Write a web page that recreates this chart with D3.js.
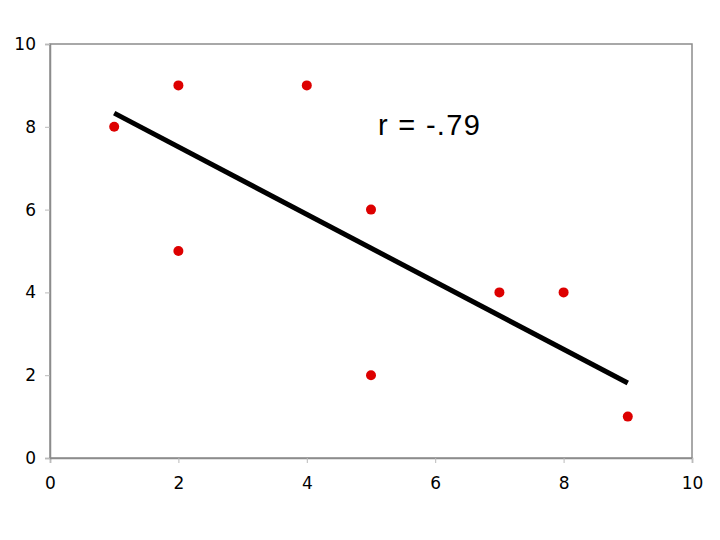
<!DOCTYPE html>
<html>
<head>
  <meta charset="utf-8">
  <script src="https://cdnjs.cloudflare.com/ajax/libs/d3/7.8.5/d3.min.js"></script>
  <style>
    body { margin: 0; background: #fff; }
    .tick text { font-family: "DejaVu Sans", Verdana, sans-serif; font-size: 17px; fill: #000; }
  </style>
</head>
<body>
<script>
  // points
  const xs = [1, 2, 2, 4, 5, 5, 7, 8, 9];
  const ys = [8, 9, 5, 9, 6, 2, 4, 4, 1];
  // fitted line end points
  const fitX = [1, 9];
  const fitY = [8.33, 1.81];
  const ticks = [0, 2, 4, 6, 8, 10];
  const label = "r = -.79";

  const w = 720, h = 540;
  const padL = 50, padR = 692, padT = 44, padB = 458;

  const xScale = d3.scaleLinear().domain([0, 10]).range([padL, padR]);
  const yScale = d3.scaleLinear().domain([0, 10]).range([padB, padT]);

  const svg = d3.select("body").append("svg")
    .attr("width", w)
    .attr("height", h);

  // frame
  svg.append("rect")
    .attr("x", padL).attr("y", padT)
    .attr("width", padR - padL).attr("height", padB - padT)
    .attr("fill", "none")
    .attr("stroke", "#8c8c8c")
    .attr("stroke-width", 1.5);

  const xAxis = d3.axisBottom(xScale).tickValues(ticks).tickSize(5).tickPadding(14);
  const yAxis = d3.axisLeft(yScale).tickValues(ticks).tickSize(5).tickPadding(9);

  const gx = svg.append("g")
    .attr("transform", "translate(0," + padB + ")")
    .call(xAxis);
  const gy = svg.append("g")
    .attr("transform", "translate(" + padL + ",0)")
    .call(yAxis);

  [gx, gy].forEach(g => {
    g.select(".domain").attr("stroke", "#8c8c8c").attr("stroke-width", 1.5);
    g.selectAll(".tick line").attr("stroke", "#bbbbbb");
  });

  // regression line
  svg.append("line")
    .attr("x1", xScale(fitX[0])).attr("y1", yScale(fitY[0]))
    .attr("x2", xScale(fitX[1])).attr("y2", yScale(fitY[1]))
    .attr("stroke", "#000")
    .attr("stroke-width", 5);

  svg.selectAll("circle")
    .data(xs.map((x, i) => [x, ys[i]]))
    .enter()
    .append("circle")
    .attr("cx", d => xScale(d[0]))
    .attr("cy", d => yScale(d[1]))
    .attr("r", 5)
    .attr("fill", "#dd0000");

  svg.append("text")
    .attr("x", 378)
    .attr("y", 135)
    .attr("font-family", "Liberation Sans, Arial, sans-serif")
    .attr("font-size", 29)
    .attr("letter-spacing", 1.3)
    .text(label);
</script>
</body>
</html>
